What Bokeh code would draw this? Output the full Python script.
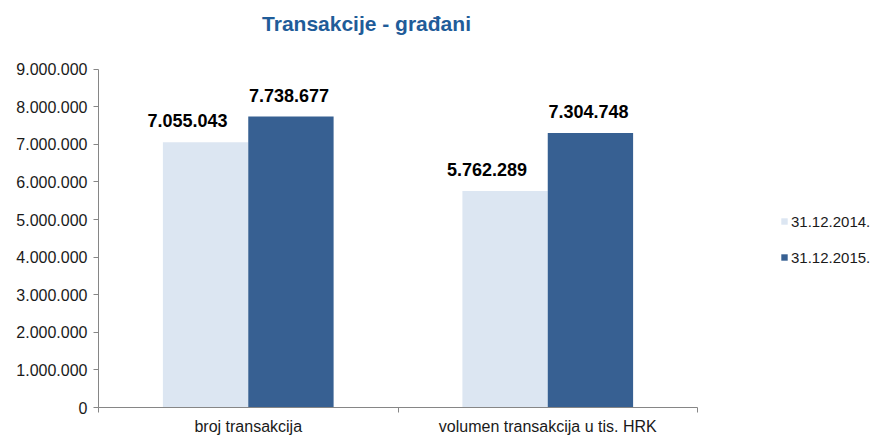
from bokeh.plotting import figure
from bokeh.models import (ColumnDataSource, FixedTicker, CustomJSTickFormatter, Legend,
                          LegendItem, Range1d, LabelSet, Label)
from bokeh.core.properties import value
from bokeh.embed import file_html
from bokeh.resources import INLINE
import numpy as np

categories = ["broj transakcija", "volumen transakcija u tis. HRK"]
series_names = ["31.12.2014.", "31.12.2015."]
values_2014 = [7055043, 5762289]
values_2015 = [7738677, 7304748]
y_ticks = [0, 1000000, 2000000, 3000000, 4000000, 5000000, 6000000, 7000000, 8000000, 9000000]
title_text = "Transakcije - građani"

c_light = "#DCE6F2"
c_dark = "#376092"
font = "Liberation Sans"

# frame spans the whole canvas area; axis lines limited with bounds
ncat = len(categories)
y_max = y_ticks[-1]
axis_w, axis_h = 599.0, 340.0
frame_w = 880 - 98 - 8
frame_h = 409 - 5
p = figure(width=880, height=437, output_backend="svg", toolbar_location=None,
           x_range=Range1d(0, ncat * frame_w / axis_w),
           y_range=Range1d(0, y_max * frame_h / axis_h),
           min_border_left=98, min_border_right=8, min_border_top=5, min_border_bottom=28)
p.outline_line_color = None
p.xgrid.visible = False
p.ygrid.visible = False
p.background_fill_color = "white"

centers = np.arange(ncat) + 0.5
bw = 0.285
src = ColumnDataSource(dict(
    x1=centers - bw / 2, x2=centers + bw / 2,
    v1=values_2014, v2=values_2015,
    t1=[f"{v:,}".replace(",", ".") for v in values_2014],
    t2=[f"{v:,}".replace(",", ".") for v in values_2015],
))
r1 = p.vbar(x="x1", top="v1", width=bw, source=src, fill_color=c_light, line_color=None)
r2 = p.vbar(x="x2", top="v2", width=bw, source=src, fill_color=c_dark, line_color=None)

for xcol, tcol, ycol, xo in [("x1", "t1", "v1", -18), ("x2", "t2", "v2", -2)]:
    ls = LabelSet(x=xcol, y=ycol, text=tcol, source=src, text_align="center",
                  text_baseline="bottom", x_offset=xo, y_offset=15, text_font=value(font),
                  text_font_size=value("18px"), text_font_style=value("bold"),
                  text_color=value("#000000"))
    p.add_layout(ls)

# y axis
p.yaxis.bounds = (0, y_max)
p.yaxis.ticker = FixedTicker(ticks=y_ticks)
p.yaxis.formatter = CustomJSTickFormatter(code="""
return tick.toFixed(0).replace(/\\B(?=(\\d{3})+(?!\\d))/g, ".");
""")
p.yaxis.axis_line_color = "#868686"
p.yaxis.major_tick_line_color = "#868686"
p.yaxis.major_tick_in = 0
p.yaxis.major_tick_out = 5
p.yaxis.minor_tick_line_color = None
p.yaxis.major_label_text_font = font
p.yaxis.major_label_text_font_size = "16px"
p.yaxis.major_label_text_color = "#1a1a1a"
p.yaxis.major_label_standoff = 6

# x axis
p.xaxis.bounds = (0, ncat)
p.xaxis.ticker = FixedTicker(ticks=list(centers), minor_ticks=list(range(ncat + 1)))
p.xaxis.major_label_overrides = {float(c): cat for c, cat in zip(centers, categories)}
p.xaxis.axis_line_color = "#868686"
p.xaxis.major_tick_line_color = None
p.xaxis.minor_tick_line_color = "#868686"
p.xaxis.minor_tick_in = 0
p.xaxis.minor_tick_out = 5
p.xaxis.major_label_text_font = font
p.xaxis.major_label_text_font_size = "16px"
p.xaxis.major_label_text_color = "#1a1a1a"
p.xaxis.major_label_standoff = 4

# title (inside the extended frame)
p.add_layout(Label(x=268, y=384, x_units="screen", y_units="screen", text=title_text,
                   text_align="center", text_baseline="middle", text_font=font,
                   text_font_size="21px", text_font_style="bold", text_color="#1F5C99"))

legend = Legend(items=[LegendItem(label=series_names[0], renderers=[r1]),
                       LegendItem(label=series_names[1], renderers=[r2])],
                location=(682, 140), orientation="vertical")
legend.glyph_width = 8
legend.glyph_height = 8
legend.label_height = 20
legend.spacing = 16
legend.padding = 0
legend.margin = 0
legend.label_standoff = 3
legend.border_line_color = None
legend.background_fill_alpha = 0
legend.label_text_font = font
legend.label_text_font_size = "15px"
legend.label_text_color = "#1a1a1a"
p.add_layout(legend)

open("out.html", "w").write(file_html(p, INLINE))
